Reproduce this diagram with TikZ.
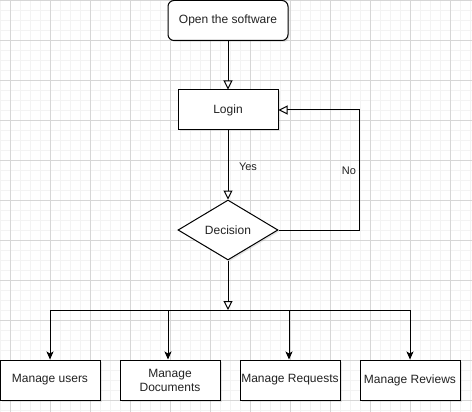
\documentclass[tikz,border=0pt]{standalone}
\usepackage{fontspec}
\setmainfont{Liberation Sans}
\usetikzlibrary{arrows.meta,shapes.geometric,shadows}
\definecolor{gridminor}{HTML}{F3F3F3}
\definecolor{gridmajor}{HTML}{D6D6D6}
\definecolor{txt}{HTML}{222222}
\tikzset{
  box/.style={draw=black, line width=1pt, fill=white, minimum width=100pt, minimum height=40pt,
    inner sep=1pt, font=\fontsize{12}{14}\selectfont, text=txt, align=center,
    drop shadow={shadow xshift=1.5pt, shadow yshift=-1.5pt, opacity=0.2}},
  roundbox/.style={box, rounded corners=6pt, minimum width=120pt},
  decbox/.style={draw=black, line width=1pt, fill=white, diamond, aspect=1.6667,
    minimum width=100pt, minimum height=60pt, inner sep=0pt,
    font=\fontsize{12}{14}\selectfont, text=txt,
    drop shadow={shadow xshift=1.5pt, shadow yshift=-1.5pt, opacity=0.2}},
  openflow/.style={draw=black, line width=1pt, -{Triangle[open, length=9pt, width=9pt, fill=white]}},
  fillflow/.style={draw=black, line width=1pt, -{Stealth[length=8pt, width=7pt, inset=2pt]}},
  plainflow/.style={draw=black, line width=1pt},
  lbl/.style={font=\fontsize{11}{13}\selectfont, text=txt, inner sep=0pt}
}
\begin{document}
\begin{tikzpicture}[x=1pt, y=-1pt]
\useasboundingbox (0,0) rectangle (472,412);
\fill[white] (0,0) rectangle (472,412);
% grid
\foreach \i in {0,10,...,470} \draw[gridminor, line width=1pt] (\i+0.5,0) -- (\i+0.5,412);
\foreach \j in {0,10,...,410} \draw[gridminor, line width=1pt] (0,\j+0.5) -- (472,\j+0.5);
\foreach \i in {10,50,...,470} \draw[gridmajor, line width=1pt] (\i+0.5,0) -- (\i+0.5,412);
\foreach \j in {0,40,...,410} \draw[gridmajor, line width=1pt] (0,\j+0.5) -- (472,\j+0.5);

% nodes
\node[roundbox] (open) at (228,20.5) {Open the software};
\node[box] (login) at (228,110) {Login};
\node[decbox] (dec) at (228,230) {Decision};
\node[box] (m1) at (50,380) {Manage users};
\node[box] (m2) at (170,380) {Manage\\Documents};
\node[box] (m3) at (290,380) {Manage Requests};
\node[box] (m4) at (410,380) {Manage Reviews};

\coordinate (bus) at (228,310);
\coordinate (noturn) at (359,230);
\coordinate (b1) at (50,310);
\coordinate (b2) at (168,310);
\coordinate (b3) at (289,310);
\coordinate (b4) at (410,310);

% connectors
\draw[openflow] (open.south) -- (login.north);
\draw[openflow] (login.south) -- node[lbl, pos=0.5, xshift=20pt, yshift=-2pt] {Yes} (dec.north);
\draw[openflow] (dec.east) -- (noturn) |- node[lbl, pos=0.25, xshift=-10pt, yshift=-1pt] {No} (login.east);
\draw[openflow] (dec.south) -- (bus);
\draw[plainflow] (b1) -- (b4);
\draw[fillflow] (b1) -- (m1.north);
\draw[fillflow] (b2) -- (b2 |- m2.north);
\draw[fillflow] (b3) -- (b3 |- m3.north);
\draw[fillflow] (b4) -- (m4.north);
\end{tikzpicture}
\end{document}
